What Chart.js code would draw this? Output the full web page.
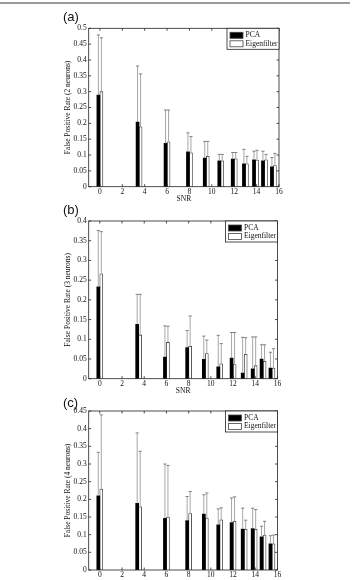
<!DOCTYPE html>
<html>
<head>
<meta charset="utf-8">
<script src="https://cdn.jsdelivr.net/npm/chart.js@4"></script>
<style>
body { margin: 0; background: #fff; width: 352px; height: 580px; position: relative; overflow: hidden; }
.rule { position: absolute; left: 0; top: 2px; width: 350px; height: 2px; background: #9a9a9a; }
.panel { position: absolute; left: 0; width: 352px; }
.tag { position: absolute; left: 63px; font: 13px "Liberation Sans", Arial, sans-serif; line-height: 13px; color: #111; }
</style>
</head>
<body>
<div class="rule"></div>
<div class="panel" style="top:0px"><canvas id="chartA" width="352" height="204"></canvas></div>
<div class="panel" style="top:204px"><canvas id="chartB" width="352" height="192"></canvas></div>
<div class="panel" style="top:396px"><canvas id="chartC" width="352" height="184"></canvas></div>
<div class="tag" style="top:10px">(a)</div>
<div class="tag" style="top:203px">(b)</div>
<div class="tag" style="top:396px">(c)</div>
<script>
// SNR positions of the bar groups and the x tick labels
const snr = [0, 3.5, 6, 8, 9.5, 10.8, 12, 13, 13.9, 14.7, 15.5];
const xTicks = [0, 2, 4, 6, 8, 10, 12, 14, 16];

// (a) 2 neurons
const pcaA = [0.289, 0.204, 0.137, 0.110, 0.090, 0.082, 0.087, 0.072, 0.085, 0.082, 0.063];
const pcaTopA = [0.479, 0.381, 0.242, 0.170, 0.143, 0.102, 0.108, 0.118, 0.112, 0.112, 0.092];
const eigA = [0.300, 0.189, 0.142, 0.107, 0.096, 0.082, 0.088, 0.072, 0.084, 0.085, 0.067];
const eigTopA = [0.470, 0.356, 0.242, 0.158, 0.143, 0.102, 0.108, 0.096, 0.115, 0.102, 0.105];
const yTicksA = [0, 0.05, 0.1, 0.15, 0.2, 0.25, 0.3, 0.35, 0.4, 0.45, 0.5];

// (b) 3 neurons
const pcaB = [0.233, 0.138, 0.055, 0.079, 0.049, 0.030, 0.052, 0.014, 0.025, 0.050, 0.027];
const pcaTopB = [0.376, 0.214, 0.134, 0.122, 0.108, 0.110, 0.117, 0.105, 0.106, 0.086, 0.067];
const eigB = [0.266, 0.111, 0.092, 0.082, 0.064, 0.038, 0.036, 0.062, 0.033, 0.044, 0.027];
const eigTopB = [0.373, 0.214, 0.133, 0.159, 0.098, 0.089, 0.117, 0.104, 0.106, 0.086, 0.076];
const yTicksB = [0, 0.05, 0.1, 0.15, 0.2, 0.25, 0.3, 0.35, 0.4];

// (c) 4 neurons
const pcaC = [0.210, 0.189, 0.146, 0.140, 0.158, 0.128, 0.134, 0.116, 0.117, 0.094, 0.074];
const pcaTopC = [0.333, 0.388, 0.300, 0.208, 0.213, 0.173, 0.204, 0.175, 0.175, 0.124, 0.097];
const eigC = [0.229, 0.179, 0.150, 0.160, 0.147, 0.142, 0.138, 0.115, 0.115, 0.099, 0.074];
const eigTopC = [0.439, 0.336, 0.296, 0.222, 0.218, 0.176, 0.207, 0.141, 0.171, 0.138, 0.099];
const yTicksC = [0, 0.05, 0.1, 0.15, 0.2, 0.25, 0.3, 0.35, 0.4, 0.45];

const serif = 'Liberation Serif';
const ink = '#111';

// error bars, matlab style box with inward ticks, and the legend box
const framePlugin = {
    id: 'frame',
    afterDatasetsDraw(chart) {
        const { ctx, scales: { y } } = chart;
        ctx.save();
        chart.data.datasets.forEach((ds, d) => {
            const meta = chart.getDatasetMeta(d);
            meta.data.forEach((bar, i) => {
                const top = y.getPixelForValue(ds.upper[i]);
                ctx.strokeStyle = '#8f8f8f';
                ctx.lineWidth = 0.8;
                ctx.beginPath();
                ctx.moveTo(bar.x, bar.y);
                ctx.lineTo(bar.x, top);
                ctx.stroke();
                ctx.strokeStyle = '#666';
                ctx.beginPath();
                ctx.moveTo(bar.x - 1.6, top);
                ctx.lineTo(bar.x + 1.6, top);
                ctx.stroke();
            });
        });
        ctx.restore();
    },
    afterDraw(chart) {
        const { ctx, chartArea: a, scales: { x, y } } = chart;
        ctx.save();
        ctx.strokeStyle = '#222';
        ctx.lineWidth = 0.8;
        ctx.strokeRect(a.left, a.top, a.width, a.height);
        ctx.beginPath();
        x.ticks.forEach(t => {
            const px = x.getPixelForValue(t.value);
            ctx.moveTo(px, a.bottom); ctx.lineTo(px, a.bottom - 2.5);
            ctx.moveTo(px, a.top); ctx.lineTo(px, a.top + 2.5);
        });
        y.ticks.forEach(t => {
            const py = y.getPixelForValue(t.value);
            ctx.moveTo(a.left, py); ctx.lineTo(a.left + 2.5, py);
            ctx.moveTo(a.right, py); ctx.lineTo(a.right - 2.5, py);
        });
        ctx.stroke();

        const w = 52, h = 21, lx = a.right - w, ly = a.top;
        ctx.fillStyle = '#fff';
        ctx.fillRect(lx, ly, w, h);
        ctx.strokeRect(lx, ly, w, h);
        ctx.font = '7.5px "' + serif + '"';
        ctx.textBaseline = 'middle';
        chart.data.datasets.forEach((ds, d) => {
            const ry = ly + 7 + d * 8.5;
            ctx.fillStyle = ds.backgroundColor;
            ctx.fillRect(lx + 3, ry - 3, 13, 6);
            ctx.strokeStyle = '#444';
            ctx.strokeRect(lx + 3, ry - 3, 13, 6);
            ctx.fillStyle = ink;
            ctx.fillText(ds.label, lx + 18.5, ry);
        });
        ctx.restore();
    }
};

function makePanel(id, opts) {
    const font = { family: serif, size: 7.5 };
    return new Chart(document.getElementById(id), {
        type: 'bar',
        data: {
            datasets: [{
                label: 'PCA',
                data: snr.map((v, i) => ({ x: v, y: opts.pca[i] })),
                upper: opts.pcaTop,
                backgroundColor: '#000',
                borderWidth: 0,
                barThickness: 3
            }, {
                label: 'Eigenfilter',
                data: snr.map((v, i) => ({ x: v, y: opts.eig[i] })),
                upper: opts.eigTop,
                backgroundColor: '#fff',
                borderColor: '#333',
                borderWidth: 0.8,
                barThickness: 3
            }]
        },
        options: {
            responsive: false,
            animation: false,
            layout: { padding: { left: 63.5, right: 352 - opts.right, top: opts.top, bottom: 0 } },
            plugins: { legend: { display: false }, tooltip: { enabled: false } },
            scales: {
                x: {
                    type: 'linear',
                    min: -1,
                    max: 16,
                    offset: false,
                    grid: { display: false, drawTicks: false },
                    border: { display: false },
                    afterBuildTicks: s => { s.ticks = xTicks.map(v => ({ value: v })); },
                    afterFit: s => { s.height = opts.xHeight; },
                    ticks: { padding: 1, color: ink, font: font, maxRotation: 0, autoSkip: false },
                    title: { display: opts.showSnr, text: 'SNR', padding: 0, color: ink, font: font }
                },
                y: {
                    min: 0,
                    max: opts.yTicks[opts.yTicks.length - 1],
                    grid: { display: false, drawTicks: false },
                    border: { display: false },
                    afterBuildTicks: s => { s.ticks = opts.yTicks.map(v => ({ value: v })); },
                    afterFit: s => { s.width = 25.2; },
                    ticks: { padding: 2, color: ink, font: font, callback: v => String(+v.toFixed(2)) },
                    title: { display: true, text: opts.yTitle, padding: 0, color: ink, font: font }
                }
            }
        },
        plugins: [framePlugin]
    });
}

makePanel('chartA', {
    pca: pcaA, pcaTop: pcaTopA, eig: eigA, eigTop: eigTopA, yTicks: yTicksA,
    yTitle: 'False Positive Rate (2 neurons)', top: 28.3, right: 279, xHeight: 17.3, showSnr: true
});
makePanel('chartB', {
    pca: pcaB, pcaTop: pcaTopB, eig: eigB, eigTop: eigTopB, yTicks: yTicksB,
    yTitle: 'False Positive Rate (3 neurons)', top: 17, right: 277.5, xHeight: 17.3, showSnr: true
});
makePanel('chartC', {
    pca: pcaC, pcaTop: pcaTopC, eig: eigC, eigTop: eigTopC, yTicks: yTicksC,
    yTitle: 'False Positive Rate (4 neurons)', top: 15, right: 277.5, xHeight: 10, showSnr: false
});
</script>
</body>
</html>
